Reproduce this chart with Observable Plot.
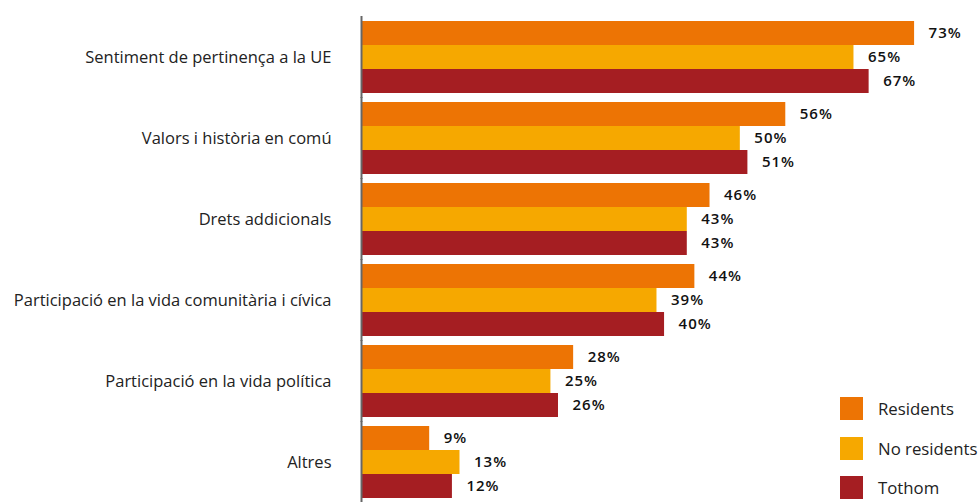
<!DOCTYPE html>
<html><head><meta charset="utf-8">
<script src="https://cdn.jsdelivr.net/npm/d3@7"></script>
<script src="https://cdn.jsdelivr.net/npm/@observablehq/plot@0.6"></script>
<style>
body{margin:0;background:#fff;font-family:"Open Sans",sans-serif;}
#wrap{position:relative;width:980px;height:502px;overflow:hidden;}
.legend{position:absolute;left:840px;top:397px;font-family:"Open Sans",sans-serif;font-size:16.8px;color:#222;}
.item{display:flex;align-items:center;height:23px;margin-bottom:16.5px;}
.sw{width:23px;height:23px;margin-right:15px;}
g[aria-label="text"] text{letter-spacing:1px;}
</style>
</head><body>
<div id="wrap"></div>
<script>
const categories = [
  "Sentiment de pertinença a la UE",
  "Valors i història en comú",
  "Drets addicionals",
  "Participació en la vida comunitària i cívica",
  "Participació en la vida política",
  "Altres"
];
const series = ["Residents", "No residents", "Tothom"];
const colors = ["#ED7404", "#F6A800", "#A51E22"];
const residents = [73, 56, 46, 44, 28, 9];
const noResidents = [65, 50, 43, 39, 25, 13];
const tothom = [67, 51, 43, 40, 26, 12];

const values = [residents, noResidents, tothom];
const data = [];
categories.forEach((c, i) => {
  series.forEach((s, j) => data.push({category: c, series: s, value: values[j][i]}));
});

const chart = Plot.plot({
  width: 980,
  height: 502,
  marginLeft: 361,
  marginRight: 0,
  marginTop: 19,
  marginBottom: 2,
  style: {fontFamily: "'Open Sans', sans-serif", fontSize: "16.5px", color: "#222", background: "#fff"},
  x: {domain: [0, 81.7], axis: null},
  y: {domain: series, axis: null, padding: 0},
  fy: {domain: categories, paddingInner: 0.086, paddingOuter: 0, label: null, tickSize: 0, tickPadding: 30},
  color: {domain: series, range: colors},
  marks: [
    Plot.barX(data, {x: "value", y: "series", fy: "category", fill: "series"}),
    Plot.text(data, {x: "value", y: "series", fy: "category", text: d => d.value + "%",
      textAnchor: "start", dx: 14, fontSize: 15, fontWeight: 600, fill: "#111"}),
    Plot.ruleX(categories, {x: () => 0, fy: d => d, stroke: "#666", strokeWidth: 2, insetTop: -4, insetBottom: -4})
  ]
});
const wrap = document.getElementById("wrap");
wrap.appendChild(chart);

const legend = document.createElement("div");
legend.className = "legend";
series.forEach((s, i) => {
  const it = document.createElement("div");
  it.className = "item";
  const sw = document.createElement("div");
  sw.className = "sw";
  sw.style.background = colors[i];
  const t = document.createElement("span");
  t.textContent = s;
  it.appendChild(sw); it.appendChild(t);
  legend.appendChild(it);
});
wrap.appendChild(legend);
</script>
</body></html>
